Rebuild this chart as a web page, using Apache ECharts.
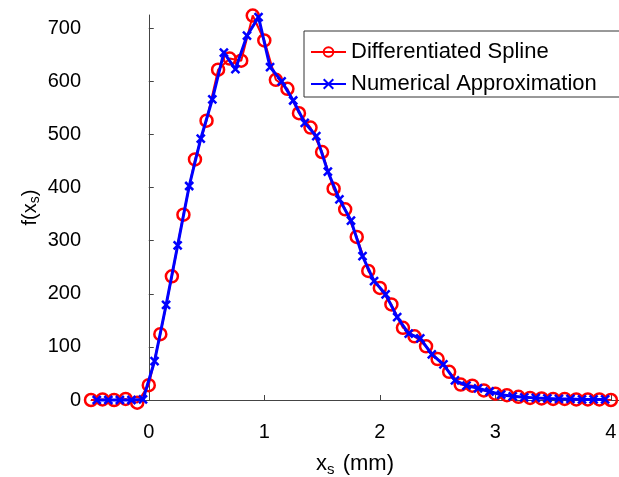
<!DOCTYPE html>
<html>
<head>
<meta charset="utf-8">
<script src="https://cdn.jsdelivr.net/npm/echarts@6/dist/echarts.min.js"></script>
<style>html,body{margin:0;padding:0;background:#fff;}#c{width:619px;height:477px;}</style>
</head>
<body>
<div id="c"></div>
<script>
var splineX = [-0.5,-0.4,-0.3,-0.2,-0.1,0.0,0.1,0.2,0.3,0.4,0.5,0.6,0.7,0.8,0.9,1.0,1.1,1.2,1.3,1.4,1.5,1.6,1.7,1.8,1.9,2.0,2.1,2.2,2.3,2.4,2.5,2.6,2.7,2.8,2.9,3.0,3.1,3.2,3.3,3.4,3.5,3.6,3.7,3.8,3.9,4.0];
var splineY = [0,1,0,2,-5,28,124,233,349,453,526,622,643,639,724,677,603,586,540,513,467,398,359,307,243,211,180,136,120,101,77,53,29,27,18,12,9,6,4,3,2,2,1,1,1,0];
var numX = [-0.45,-0.35,-0.25,-0.15,-0.05,0.05,0.15,0.25,0.35,0.45,0.55,0.65,0.75,0.85,0.95,1.05,1.15,1.25,1.35,1.45,1.55,1.65,1.75,1.85,1.95,2.05,2.15,2.25,2.35,2.45,2.55,2.65,2.75,2.85,2.95,3.05,3.15,3.25,3.35,3.45,3.55,3.65,3.75,3.85,3.95];
var numY = [0,0,0,0,1,73,179,291,403,492,566,654,623,686,721,627,600,564,522,497,430,378,338,271,224,199,156,125,116,86,67,37,27,22,16,10,7,5,4,3,2,2,1,1,1];
var xTicks = [0,1,2,3,4];
var yTicks = [0,100,200,300,400,500,600,700];
var seriesNames = ['Differentiated Spline','Numerical Approximation'];

function pairs(xs, ys){ return xs.map(function(x,i){ return [x, ys[i]]; }); }

var font = 'Liberation Sans, Arial, Helvetica, sans-serif';
var axisCol = '#444';
var chart = echarts.init(document.getElementById('c'));
chart.setOption({
  backgroundColor: '#fff',
  animation: false,
  grid: { left: 91, right: 0, top: 15, bottom: 77, containLabel: false, outerBoundsMode: 'none' },
  legend: {
    orient: 'vertical', left: 304, top: 31,
    data: seriesNames,
    borderColor: '#333', borderWidth: 1, backgroundColor: '#fff',
    padding: [10, 30, 2, 6], itemGap: 10, itemWidth: 35, itemHeight: 12,
    textStyle: { fontSize: 22, color: '#000', fontFamily: font }
  },
  xAxis: {
    type: 'value', min: -0.5, max: 4.07,
    name: '{b|x}{sub|s}{b| (mm)}', nameLocation: 'middle', nameGap: 50, nameMoveOverlap: false,
    nameTextStyle: { fontFamily: font, rich: {
      b: { fontSize: 22, fontFamily: font, color: '#000' },
      sub: { fontSize: 15, fontFamily: font, color: '#000', padding: [12, 2, 0, 0] }
    }},
    axisLine: { show: true, lineStyle: { color: axisCol, width: 1 } },
    axisTick: { show: true, inside: true, length: 5, lineStyle: { color: axisCol }, customValues: xTicks },
    axisLabel: { fontSize: 20, color: '#000', fontFamily: font, margin: 22, customValues: xTicks },
    splitLine: { show: false }
  },
  yAxis: {
    type: 'value', min: 0, max: 725,
    name: '{b|f(x}{sub|s}{b|)}', nameLocation: 'middle', nameGap: 49, nameRotate: 90, nameMoveOverlap: false,
    nameTextStyle: { fontFamily: font, rich: {
      b: { fontSize: 20, fontFamily: font, color: '#000' },
      sub: { fontSize: 14, fontFamily: font, color: '#000', padding: [10, 0, 0, 0] }
    }},
    axisLine: { show: true, lineStyle: { color: axisCol, width: 1 } },
    axisTick: { show: true, inside: true, length: 5, lineStyle: { color: axisCol }, customValues: yTicks },
    axisLabel: { fontSize: 20, color: '#000', fontFamily: font, margin: 10, customValues: yTicks },
    splitLine: { show: false }
  },
  series: [
    {
      name: seriesNames[0], type: 'line', data: pairs(splineX, splineY), clip: false,
      symbol: 'circle', symbolSize: 12, showAllSymbol: true,
      lineStyle: { color: '#ff0000', width: 2 },
      itemStyle: { color: 'rgba(255,255,255,0)', borderColor: '#ff0000', borderWidth: 2.5 },
      z: 2
    },
    {
      name: seriesNames[1], type: 'line', data: pairs(numX, numY), clip: false,
      symbol: 'path://M0,0L10,10M10,0L0,10', symbolSize: 8, showAllSymbol: true,
      lineStyle: { color: '#0000ff', width: 3 },
      itemStyle: { color: '#0000ff', borderColor: '#0000ff', borderWidth: 2.5 },
      z: 3
    }
  ]
});
</script>
</body>
</html>
